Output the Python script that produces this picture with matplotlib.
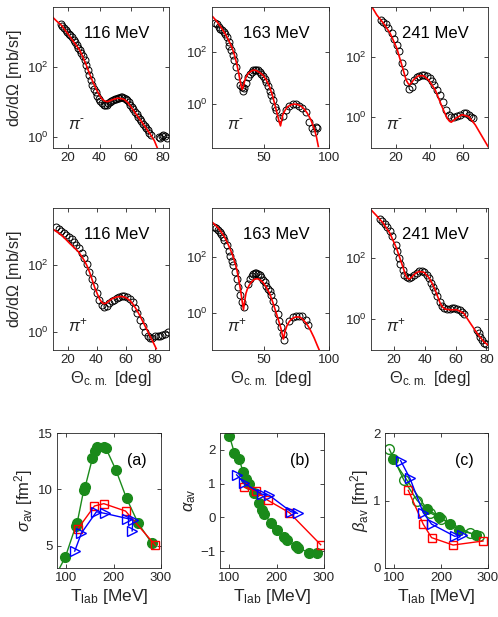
import numpy as np
import matplotlib
matplotlib.use("Agg")
import matplotlib.pyplot as plt
from matplotlib.ticker import NullLocator, FixedLocator, LogFormatterSciNotation

plt.rcParams['font.family'] = ['Liberation Sans', 'DejaVu Sans']
plt.rcParams['mathtext.fontset'] = 'custom'
plt.rcParams['mathtext.rm'] = 'Liberation Sans'
plt.rcParams['mathtext.it'] = 'Liberation Sans:italic'
plt.rcParams['mathtext.bf'] = 'Liberation Sans:bold'

# ---------------- angular distributions (log10 of dsigma/dOmega in mb/sr) ----------------
# pi- 116 MeV
pim116_theta = [15.4,16.5,17.5,18.5,19.5,20.5,21.5,22.5,23.5,24.5,25.5,26.5,27.5,28.5,29.5,30.5,
                31.5,32.5,33.5,34.5,35.5,36.5,37.5,38.5,39.5,40.5,41.5,42.5,43.5,44.5,45.5,46.5,
                47.5,48.5,49.5,50.5,51.5,52.5,53.5,54.5,55.5,56.5,57.5,58.5,59.5,60.5,61.5,62.5,
                63.5,64.5,65.5,66.5,67.5,68.5,69.5,70.5,71.5,72.5,77.5,78.5,79.5,80.5,81.5,82.5]
pim116_log = [3.22,3.17,3.12,3.06,3.00,2.95,2.90,2.85,2.78,2.70,2.62,2.55,2.47,2.40,2.30,2.20,
              2.07,1.92,1.78,1.64,1.50,1.38,1.28,1.18,1.10,1.02,0.96,0.93,0.92,0.93,0.96,1.00,
              1.04,1.07,1.09,1.10,1.11,1.12,1.13,1.13,1.12,1.10,1.06,1.00,0.93,0.86,0.79,0.72,
              0.65,0.58,0.51,0.45,0.38,0.32,0.26,0.20,0.13,0.05,0.00,-0.02,0.04,0.06,0.02,-0.02]
pim116_fit_theta = [10.5,13,15.8,19,22.1,25,27.4,29.5,31.6,33.7,35.8,38,40,41.7,43.2,44.8,46.3,
                    49,51.6,53.7,55.8,58,60,62.6,65.3,68,70.5,72.6,74.7,76.8,78.5]
pim116_fit_log = [3.41,3.30,3.19,3.00,2.81,2.63,2.48,2.28,2.05,1.80,1.57,1.36,1.19,1.08,1.03,1.01,1.03,
                  1.08,1.11,1.10,1.07,0.98,0.86,0.69,0.52,0.35,0.19,0.05,-0.10,-0.33,-0.55]

# pi- 163 MeV
pim163_theta = [12.5,13.8,15.1,16.3,17.6,18.9,20.1,21.4,22.7,23.4,24.7,25.9,27.0,28.5,30.3,31.5,
                32.8,33.5,34.6,36.1,37.8,39.1,40.4,41.6,42.9,44.2,45.4,46.7,48.0,49.2,50.5,51.8,
                53.0,54.3,55.6,56.8,58.1,59.4,61.4,64.4,67.0,69.5,72.0,74.6,77.1,79.6,82.2,84.7,
                86.7,88.5,89.7,91.0]
pim163_log = [3.11,3.06,2.98,2.89,2.83,2.76,2.70,2.57,2.38,2.25,2.06,1.87,1.68,1.43,1.07,0.73,
              0.64,0.51,0.60,0.82,1.04,1.15,1.24,1.30,1.32,1.32,1.30,1.24,1.17,1.07,0.98,0.85,
              0.69,0.51,0.34,0.15,-0.10,-0.23,-0.55,-0.46,-0.23,-0.08,0.00,0.00,-0.08,-0.17,-0.29,-0.68,
              -0.93,-1.06,-0.87,-0.93]
pim163_fit_theta = [10.5,12.8,15.1,17.6,20.1,22.6,25.2,27.2,29.0,30.3,31.5,32.5,33.3,34.2,35.3,36.5,
                    37.8,39.7,41.6,43.2,44.7,47.0,49.2,51.8,54.3,56.2,58.1,60.0,61.5,62.7,63.6,64.4,
                    66.2,68.2,70.7,73.3,75.8,78.4,80.9,83.4,86.0,88.5,90.3,91.8]
pim163_fit_log = [3.36,3.23,3.08,2.90,2.70,2.47,2.19,1.90,1.55,1.25,0.92,0.68,0.56,0.70,0.92,1.06,
                  1.17,1.25,1.30,1.30,1.27,1.20,1.11,0.92,0.66,0.38,0.03,-0.35,-0.65,-0.84,-0.62,-0.42,
                  -0.24,-0.10,-0.03,0.00,-0.02,-0.08,-0.19,-0.36,-0.60,-0.93,-1.25,-1.63]

# pi- 241 MeV
pim241_theta = [10.8,12.4,14.0,15.4,17.4,18.8,20.4,22.0,23.4,24.8,26.4,28.0,29.4,30.8,32.4,34.0,
                35.4,36.8,38.4,40.0,41.4,42.8,44.4,46.0,48.0,50.0,51.4,53.0,54.8,56.4,58.4,60.4,
                62.0,63.4,64.8,66.0]
pim241_log = [3.22,3.16,3.11,2.97,2.80,2.60,2.41,2.19,1.80,1.52,1.16,0.93,1.02,1.24,1.33,1.38,
              1.41,1.41,1.38,1.30,1.19,1.08,0.89,0.74,0.52,0.24,0.08,0.02,0.02,0.04,0.08,0.13,
              0.13,0.08,0.00,-0.03]
pim241_fit_theta = [5.4,8.4,12.4,16.4,20.4,23.4,26.0,27.2,28.0,29.0,30.4,33.4,36.4,39.4,43.4,47.4,
                    50.4,52.0,53.0,54.2,56.0,59.4,63.4,67.4,71.4,75.0]
pim241_fit_log = [3.69,3.41,3.13,2.80,2.30,1.74,1.24,1.12,1.08,1.12,1.24,1.38,1.38,1.24,0.91,0.36,
                  -0.03,-0.14,-0.17,-0.12,-0.03,0.08,0.02,-0.26,-0.64,-0.98]

# pi+ 116 MeV
pip116_theta = [12.4,14.2,15.8,17.5,19.3,20.9,22.8,24.4,26.2,28.1,29.7,31.3,33.2,35.0,36.6,38.5,
                40.1,41.9,43.5,45.2,47.0,48.6,50.5,52.1,53.9,55.8,57.4,59.0,60.8,63.2,65.0,66.6,
                68.2,70.1,71.9,73.5,75.2,77.0,78.6,80.5,82.1,83.9,85.5,87.2,89.0]
pip116_log = [3.12,3.06,3.02,2.96,2.89,2.84,2.76,2.69,2.59,2.50,2.37,2.20,2.03,1.80,1.57,1.36,
              1.16,0.94,0.81,0.74,0.76,0.86,0.91,0.96,1.01,1.04,1.06,1.06,1.04,0.98,0.88,0.71,
              0.56,0.37,0.19,-0.01,-0.11,-0.18,-0.18,-0.13,-0.13,-0.11,-0.08,-0.05,-0.01]
pip116_fit_theta = [10.1,13.0,15.8,18.7,21.6,24.5,27.4,29.7,32.0,33.8,35.5,37.2,38.9,40.7,42.4,43.8,
                    45.2,46.7,48.2,50.0,51.6,54.0,56.2,58.5,60.8,63.2,65.5,67.8,70.1,72.4,74.7,77.0,
                    79.3,81.2]
pip116_fit_log = [3.06,2.98,2.89,2.77,2.64,2.52,2.40,2.26,2.10,1.94,1.75,1.53,1.31,1.12,0.96,0.88,
                  0.84,0.86,0.91,0.97,1.01,1.04,1.06,1.05,1.01,0.93,0.81,0.65,0.47,0.27,0.07,-0.13,
                  -0.33,-0.50]

# pi+ 163 MeV
pip163_theta = [11.8,13.0,14.3,15.8,17.1,18.4,19.6,21.4,22.7,23.9,25.2,26.5,27.7,29.0,30.3,31.5,
                32.8,34.6,37.8,39.1,40.4,41.6,42.9,44.2,45.4,46.7,48.0,49.2,50.5,51.8,53.0,54.3,
                55.6,57.3,58.8,60.6,61.9,63.2,64.4,65.2,69.5,72.0,74.6,77.0,79.6,82.2,84.2]
pip163_log = [3.08,3.02,2.97,2.91,2.81,2.73,2.62,2.44,2.21,2.03,1.86,1.72,1.45,1.22,0.93,0.64,
              0.41,0.23,1.05,1.22,1.33,1.39,1.42,1.42,1.38,1.35,1.27,1.19,1.10,0.98,0.87,0.79,
              0.65,0.42,0.19,-0.05,-0.28,-0.51,-0.74,-0.95,-0.29,-0.14,-0.09,-0.09,-0.12,-0.26,-0.41]
pip163_fit_theta = [10.5,12.8,15.1,17.6,20.1,22.6,25.2,27.1,29.0,30.5,32.0,33.2,34.2,35.2,36.1,37.3,
                    38.6,40.4,42.2,43.8,45.4,47.3,49.2,51.8,54.3,56.8,59.4,61.3,63.2,64.1,64.9,66.2,
                    67.5,69.1,70.8,72.7,74.6,76.5,78.4,80.3,82.2,84.1,86.0,88.5,91.0,92.3]
pip163_fit_log = [3.23,3.13,3.02,2.86,2.67,2.43,2.15,1.88,1.57,1.22,0.81,0.42,0.12,0.45,0.70,0.87,
                  0.99,1.11,1.19,1.22,1.22,1.17,1.10,0.92,0.70,0.38,0.00,-0.28,-0.58,-0.78,-0.93,-0.65,
                  -0.47,-0.33,-0.23,-0.17,-0.14,-0.14,-0.17,-0.25,-0.35,-0.48,-0.64,-0.88,-1.16,-1.30]

# pi+ 241 MeV
pip241_theta = [11.0,12.4,13.9,15.4,17.2,18.9,21.1,22.2,23.3,24.1,25.5,26.5,28.1,29.8,31.3,32.9,
                34.6,36.4,37.9,39.4,41.2,42.7,44.0,45.5,46.8,48.1,49.5,51.0,52.5,54.3,56.0,57.5,
                59.1,60.8,62.5,64.1,65.6,73.9,75.0,76.1,77.2,78.3,79.4]
pip241_log = [3.29,3.21,3.12,3.02,2.88,2.71,2.44,2.22,2.00,1.81,1.62,1.45,1.37,1.34,1.37,1.45,
              1.51,1.56,1.56,1.53,1.45,1.34,1.18,1.04,0.90,0.74,0.57,0.43,0.35,0.34,0.34,0.35,
              0.35,0.32,0.30,0.24,0.16,-0.36,-0.47,-0.58,-0.69,-0.78,-0.82]
pip241_fit_theta = [5.2,8.4,12.8,17.2,21.5,24.8,27.6,28.7,29.8,31.3,32.9,34.6,36.4,39.4,42.9,44.8,
                    46.6,49.9,51.5,53.2,56.4,60.8,65.2,69.5,73.9,78.3,81.1]
pip241_fit_log = [3.57,3.40,3.15,2.82,2.33,1.84,1.42,1.33,1.31,1.36,1.45,1.52,1.56,1.53,1.34,1.16,
                  0.96,0.52,0.39,0.32,0.30,0.30,0.19,-0.14,-0.47,-0.75,-0.86]

energies = ['116 MeV', '163 MeV', '241 MeV']
pion_labels = [r'$\pi^{\text{-}}$', r'$\pi^{\text{+}}$']

# ---------------- energy dependence ----------------
# (a) sigma_av [fm^2]
a_green_T = [70,97.7,119.6,122.4,136.6,139.4,155,160,165.6,179.7,183.3,204.5,227.1,251.9,280.2]
a_green_v = [1.75,3.98,6.72,6.96,9.94,10.18,12.77,13.36,13.8,13.72,13.66,11.72,9.19,6.96,5.23]
a_red_T = [124.6,159.2,179.0,225.0,288.0]
a_red_v = [6.51,8.51,8.72,8.06,5.02]
a_blue_T = [117.5,131.6,163.5,181.5,228.5,240.5,239.0]
a_blue_v = [4.5,6.1,8.0,7.85,7.4,7.3,6.3]

# (b) alpha_av
b_green_T = [99.7,110.3,120.2,129.4,134.3,141.3,151.9,162.5,169.5,173.1,187.9,201.3,215.4,221.0,
             240.0,245.7,268.3,284.5]
b_green_v = [2.42,1.92,1.73,1.33,1.13,0.99,0.71,0.44,0.22,0.10,-0.16,-0.36,-0.58,-0.66,
             -0.85,-0.90,-1.05,-1.07]
b_red_T = [131.5,157.0,180.8,226.7,293.0]
b_red_v = [0.89,0.78,0.51,0.14,-0.81]
b_blue_T = [115.3,131.5,168.0,183.6,230.0,244.0]
b_blue_v = [1.26,1.01,0.69,0.66,0.17,0.12]

# (c) beta_av [fm^2]
c_green_T = [96.3,168.7,195.7,218.4,238.3,275.2]
c_green_v = [1.61,0.88,0.76,0.65,0.56,0.49]
c_green_open_T = [89.2,120.5,148.8,175.8,200.6,261.0,280.0]
c_green_open_v = [1.76,1.30,1.00,0.82,0.73,0.52,0.47]
c_red_T = [129.7,161.6,179.4,225.5,289.4]
c_red_v = [1.15,0.65,0.45,0.34,0.40]
c_blue_T = [113.4,133.2,161.6,179.4,229.0,245.0]
c_blue_v = [1.59,1.33,0.82,0.65,0.47,0.49]

# ---------------- figure ----------------
W, H = 498, 617
fig = plt.figure(figsize=(W/100, H/100), dpi=100)
DARK = '#262626'

def px_axes(x0, y0, x1, y1):
    return fig.add_axes([x0/W, 1-y1/H, (x1-x0)/W, (y1-y0)/H])

def style(ax):
    for s in ax.spines.values():
        s.set_color(DARK)
        s.set_linewidth(0.6)
    ax.tick_params(direction='in', top=True, right=True, length=3, width=0.6,
                   colors=DARK, labelsize=9.5, pad=3)

ang_sets = [
    (pim116_theta, pim116_log, pim116_fit_theta, pim116_fit_log),
    (pim163_theta, pim163_log, pim163_fit_theta, pim163_fit_log),
    (pim241_theta, pim241_log, pim241_fit_theta, pim241_fit_log),
    (pip116_theta, pip116_log, pip116_fit_theta, pip116_fit_log),
    (pip163_theta, pip163_log, pip163_fit_theta, pip163_fit_log),
    (pip241_theta, pip241_log, pip241_fit_theta, pip241_fit_log),
]
cols = [(53, 169), (212, 329), (371, 488)]
rows = [(7, 148), (208, 350)]
xlims = [(10.5, 84), (10, 100), (5, 75), (10, 90), (10, 100), (5, 81)]
ylims = [(-0.31, 3.71), (-1.69, 3.73), (-1.03, 3.67), (-0.54, 3.7), (-1.32, 3.75), (-1.02, 3.64)]
xticks = [[20, 40, 60, 80], [50, 100], [20, 40, 60], [20, 40, 60, 80], [50, 100], [20, 40, 60, 80]]

for i, (th, lg, fth, flg) in enumerate(ang_sets):
    r, c = divmod(i, 3)
    ax = px_axes(cols[c][0], rows[r][0], cols[c][1], rows[r][1])
    ax.set_yscale('log')
    ax.plot(th, np.power(10.0, lg), 'o', mfc='none', mec='black', ms=5.0, mew=0.7)
    ax.plot(fth, np.power(10.0, flg), '-', color='red', lw=1.2)
    ax.set_xlim(*xlims[i])
    ax.set_ylim(10**ylims[i][0], 10**ylims[i][1])
    ax.yaxis.set_major_locator(FixedLocator([1, 100]))
    ax.yaxis.set_major_formatter(LogFormatterSciNotation())
    ax.yaxis.set_minor_locator(NullLocator())
    ax.set_xticks(xticks[i])
    style(ax)
    ax.text(0.55, 0.81, energies[c], transform=ax.transAxes, ha='center', va='center',
            fontsize=12, color='black')
    ax.text(0.13, 0.13, pion_labels[r], transform=ax.transAxes, ha='left',
            va='baseline', fontsize=12, color=DARK)
    if c == 0:
        ax.set_ylabel(r'd$\sigma$/d$\Omega$ [mb/sr]', fontsize=11.5, color=DARK, labelpad=2)
    if r == 1:
        ax.set_xlabel(r'$\Theta_{\rm c.m.}$ [deg]', fontsize=12, color=DARK, labelpad=2)

# bottom row
bcols = [(57, 161), (220, 324), (385, 488)]
btop, bbot = 433, 568
GREEN = '#1a8a1a'
ax_a = px_axes(bcols[0][0], btop, bcols[0][1], bbot)
ax_b = px_axes(bcols[1][0], btop, bcols[1][1], bbot)
ax_c = px_axes(bcols[2][0], btop, bcols[2][1], bbot)

def series(ax, T, v, color, marker, filled, ms):
    ax.plot(T, v, '-', color=color, lw=1.0, marker=marker, ms=ms,
            mfc=color if filled else 'none', mec=color, mew=1.0, clip_on=True)

series(ax_a, a_green_T, a_green_v, GREEN, 'o', True, 7)
series(ax_a, a_red_T, a_red_v, 'red', 's', False, 5.5)
series(ax_a, a_blue_T, a_blue_v, 'blue', '>', False, 7)
ax_a.set_ylim(3, 15)
ax_a.set_yticks([5, 10, 15])
ax_a.set_ylabel(r'$\sigma_{\rm av}$ [fm$^2$]', fontsize=12, color=DARK, labelpad=2)
ax_a.text(0.77, 0.80, '(a)', transform=ax_a.transAxes, ha='center', va='center', fontsize=11.5)

series(ax_b, b_green_T, b_green_v, GREEN, 'o', True, 7)
series(ax_b, b_red_T, b_red_v, 'red', 's', False, 5.5)
series(ax_b, b_blue_T, b_blue_v, 'blue', '>', False, 7)
ax_b.set_ylim(-1.5, 2.5)
ax_b.set_yticks([-1, 0, 1, 2])
ax_b.set_ylabel(r'$\alpha_{\rm av}$', fontsize=12, color=DARK, labelpad=2)
ax_b.text(0.77, 0.80, '(b)', transform=ax_b.transAxes, ha='center', va='center', fontsize=11.5)

series(ax_c, c_green_T, c_green_v, GREEN, 'o', True, 7)
series(ax_c, c_green_open_T, c_green_open_v, GREEN, 'o', False, 7)
series(ax_c, c_red_T, c_red_v, 'red', 's', False, 5.5)
series(ax_c, c_blue_T, c_blue_v, 'blue', '>', False, 7)
ax_c.set_ylim(0, 2)
ax_c.set_yticks([0, 1, 2])
ax_c.set_ylabel(r'$\beta_{\rm av}$ [fm$^2$]', fontsize=12, color=DARK, labelpad=2)
ax_c.text(0.77, 0.80, '(c)', transform=ax_c.transAxes, ha='center', va='center', fontsize=11.5)

for ax in (ax_a, ax_b, ax_c):
    ax.set_xlim(80, 300)
    ax.set_xticks([100, 200, 300])
    style(ax)
    ax.set_xlabel(r'T$_{\rm lab}$ [MeV]', fontsize=12.5, color=DARK, labelpad=2)

fig.savefig('out.png', dpi=100)
